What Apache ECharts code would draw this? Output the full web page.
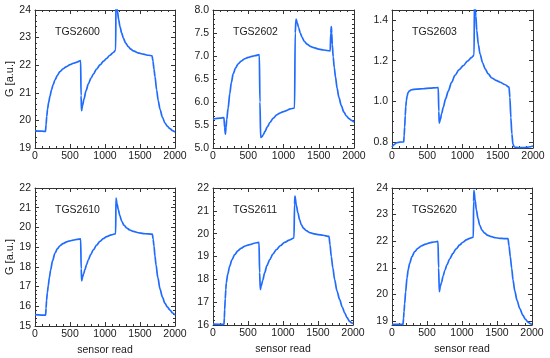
<!DOCTYPE html>
<html><head><meta charset="utf-8">
<script src="https://cdn.jsdelivr.net/npm/echarts@6/dist/echarts.min.js"></script>
<style>html,body{margin:0;padding:0;background:#fff}#c{width:550px;height:358px}</style>
</head><body><div id="c"></div><script>
// ---- data (sensor read, G [a.u.]) ----
const sensorNames = ['TGS2600','TGS2602','TGS2603','TGS2610','TGS2611','TGS2620'];
const xTickLabels = [0, 500, 1000, 1500, 2000];

const tgs2600 = [[0,19.62],[100,19.61],[150,19.6],[158,19.85],[168,20.15],[180,20.42],[195,20.65],[214,20.88],[235,21.1],[260,21.3],[286,21.47],[320,21.63],[357,21.77],[400,21.87],[452,21.95],[500,22.02],[548,22.07],[600,22.11],[652,22.17],[658,20.9],[665,20.35],[680,20.55],[700,20.78],[730,21.08],[762,21.32],[800,21.53],[833,21.67],[880,21.86],[929,22.01],[980,22.15],[1024,22.25],[1070,22.36],[1119,22.46],[1152,22.55],[1158,24.6],[1176,24.0],[1195,23.65],[1214,23.4],[1238,23.17],[1262,22.98],[1295,22.8],[1333,22.67],[1370,22.58],[1405,22.52],[1470,22.45],[1548,22.4],[1620,22.36],[1672,22.34],[1685,22.15],[1700,21.85],[1714,21.59],[1738,21.1],[1760,20.72],[1786,20.4],[1820,20.12],[1857,19.9],[1890,19.79],[1929,19.7],[1965,19.63],[2000,19.58]];
const tgs2602 = [[0,5.63],[100,5.65],[155,5.66],[165,5.45],[176,5.3],[185,5.45],[195,5.62],[214,5.86],[238,6.18],[260,6.42],[286,6.61],[320,6.74],[357,6.83],[400,6.89],[452,6.94],[500,6.97],[548,6.99],[600,7.01],[657,7.03],[666,6.0],[676,5.23],[690,5.24],[710,5.28],[738,5.36],[770,5.46],[810,5.56],[855,5.65],[905,5.72],[950,5.76],[1000,5.79],[1050,5.82],[1095,5.85],[1157,5.87],[1166,7.5],[1178,7.8],[1195,7.72],[1214,7.62],[1238,7.5],[1262,7.41],[1295,7.32],[1333,7.26],[1380,7.21],[1429,7.18],[1500,7.15],[1571,7.13],[1662,7.11],[1671,7.5],[1678,7.64],[1684,7.5],[1692,7.25],[1705,6.98],[1720,6.75],[1738,6.54],[1760,6.3],[1786,6.1],[1820,5.92],[1857,5.78],[1890,5.7],[1929,5.64],[1965,5.6],[2000,5.56]];
const tgs2603 = [[0,0.775],[30,0.787],[62,0.795],[110,0.799],[166,0.80],[172,0.83],[180,0.874],[188,0.93],[196,0.975],[204,1.004],[215,1.027],[228,1.043],[250,1.052],[276,1.057],[350,1.06],[442,1.062],[540,1.065],[632,1.067],[656,1.068],[664,0.95],[670,0.893],[685,0.91],[705,0.94],[727,0.97],[760,1.012],[798,1.05],[845,1.093],[893,1.128],[950,1.155],[1012,1.176],[1070,1.198],[1131,1.217],[1164,1.228],[1170,1.52],[1190,1.42],[1202,1.35],[1225,1.28],[1249,1.233],[1285,1.19],[1321,1.16],[1365,1.135],[1416,1.115],[1475,1.103],[1534,1.094],[1600,1.083],[1660,1.07],[1672,1.02],[1686,0.92],[1700,0.84],[1715,0.79],[1734,0.775],[1800,0.772],[1867,0.772],[1940,0.775],[2000,0.78]];
const tgs2610 = [[0,15.58],[152,15.55],[158,15.9],[165,16.3],[177,16.7],[190,17.05],[205,17.45],[224,17.85],[250,18.3],[286,18.7],[320,18.92],[357,19.07],[400,19.18],[452,19.27],[500,19.32],[548,19.36],[600,19.39],[652,19.42],[660,17.9],[667,17.29],[680,17.48],[695,17.65],[714,17.87],[737,18.12],[762,18.36],[795,18.62],[833,18.86],[880,19.1],[929,19.29],[975,19.43],[1024,19.53],[1090,19.62],[1152,19.68],[1157,21.49],[1172,21.2],[1190,20.9],[1212,20.6],[1238,20.32],[1270,20.12],[1310,19.97],[1355,19.87],[1405,19.8],[1475,19.73],[1548,19.69],[1620,19.67],[1676,19.66],[1688,19.4],[1700,19.05],[1714,18.55],[1729,18.1],[1755,17.45],[1786,16.88],[1820,16.47],[1857,16.15],[1890,15.97],[1929,15.81],[1965,15.66],[2000,15.56]];
const tgs2611 = [[0,16.04],[157,16.03],[162,16.3],[167,16.67],[175,17.15],[183,17.55],[190,17.84],[210,18.22],[238,18.57],[270,18.85],[310,19.08],[355,19.25],[405,19.37],[460,19.46],[524,19.52],[590,19.58],[657,19.62],[666,18.3],[676,17.55],[690,17.72],[710,17.95],[738,18.28],[770,18.6],[810,18.86],[855,19.1],[905,19.3],[960,19.47],[1024,19.62],[1090,19.72],[1157,19.81],[1165,21.3],[1171,21.64],[1190,21.25],[1214,20.9],[1238,20.6],[1262,20.39],[1295,20.23],[1333,20.13],[1380,20.05],[1429,20.0],[1500,19.96],[1571,19.93],[1657,19.88],[1672,19.5],[1690,19.0],[1712,18.5],[1738,17.99],[1770,17.5],[1810,17.11],[1845,16.8],[1881,16.53],[1915,16.32],[1952,16.16],[1980,16.09],[2000,16.06]];
const tgs2620 = [[0,18.87],[157,18.87],[165,19.1],[172,19.35],[181,19.65],[195,20.1],[214,20.62],[232,20.93],[252,21.17],[285,21.42],[324,21.61],[370,21.73],[419,21.82],[480,21.89],[538,21.94],[600,21.97],[657,21.99],[666,21.0],[676,20.1],[690,20.3],[708,20.45],[729,20.68],[755,20.9],[786,21.12],[825,21.34],[871,21.54],[915,21.71],[967,21.86],[1012,21.96],[1062,22.05],[1110,22.11],[1162,22.15],[1166,23.5],[1171,23.91],[1187,23.55],[1205,23.18],[1228,22.86],[1252,22.61],[1285,22.42],[1324,22.3],[1370,22.22],[1419,22.17],[1480,22.13],[1538,22.11],[1600,22.1],[1657,22.1],[1672,21.82],[1690,21.42],[1710,20.98],[1729,20.54],[1755,20.12],[1786,19.78],[1825,19.47],[1871,19.21],[1905,19.07],[1943,18.96],[1975,18.9],[2000,18.87]];

const yTicks2600 = [19,20,21,22,23,24];
const yTicks2602 = [5.0,5.5,6.0,6.5,7.0,7.5,8.0];
const yTicks2603 = [0.8,1.0,1.2,1.4];
const yTicks2610 = [15,16,17,18,19,20,21,22];
const yTicks2611 = [16,17,18,19,20,21,22];
const yTicks2620 = [19,20,21,22,23,24];

// ---- layout ----
const panels = [
  {data:tgs2600, min:19, max:24, ticks:yTicks2600, step:0.2, dec:0, grid:{left:35,top:10,width:140,height:138}, ylab:true, xlab:false},
  {data:tgs2602, min:5, max:8, ticks:yTicks2602, step:0.1, dec:1, grid:{left:213,top:10,width:141,height:138}, ylab:false, xlab:false},
  {data:tgs2603, min:0.77, max:1.45, ticks:yTicks2603, step:0.05, dec:1, grid:{left:392,top:10,width:141,height:138}, ylab:false, xlab:false},
  {data:tgs2610, min:15, max:22, ticks:yTicks2610, step:0.2, dec:0, grid:{left:35,top:188,width:140,height:138}, ylab:true, xlab:true},
  {data:tgs2611, min:16, max:22, ticks:yTicks2611, step:0.2, dec:0, grid:{left:213,top:188,width:140,height:137}, ylab:false, xlab:true},
  {data:tgs2620, min:18.85, max:24, ticks:yTicks2620, step:0.2, dec:0, grid:{left:392,top:188,width:140,height:137}, ylab:false, xlab:true}
];

const font = 'Arial, "Liberation Sans", sans-serif';
const ink = '#1a1a1a';
const lineCol = '#333';
const grid=[], xAxis=[], yAxis=[], series=[], title=[];

panels.forEach((p,i)=>{
  grid.push(Object.assign({containLabel:false}, p.grid));
  const minor=[];
  for(let k=Math.ceil(p.min/p.step-1e-9); k*p.step<=p.max+1e-9; k++){
    const v=+(k*p.step).toFixed(4);
    if(!p.ticks.some(t=>Math.abs(t-v)<1e-6)) minor.push(v);
  }
  const xBase = {gridIndex:i, type:'value', min:0, max:2000, interval:500,
    axisLine:{show:true, lineStyle:{color:lineCol,width:1}},
    axisTick:{show:true, inside:true, length:4, lineStyle:{color:lineCol}},
    minorTick:{show:true, splitNumber:5, length:2, lineStyle:{color:lineCol}},
    splitLine:{show:false}, minorSplitLine:{show:false}};
  xAxis.push(Object.assign({}, xBase, {position:'bottom',
    axisLabel:{show:true, fontSize:10.5, color:ink, fontFamily:font, margin:3,
      customValues:xTickLabels, formatter:v=>String(v)},
    name: p.xlab ? 'sensor read' : '', nameLocation:'middle', nameGap:19,
    nameTextStyle:{fontSize:10.5, color:ink, fontFamily:font}}));
  xAxis.push(Object.assign({}, xBase, {position:'top', axisLabel:{show:false}}));
  const yBase = {gridIndex:i, type:'value', min:p.min, max:p.max, splitLine:{show:false}};
  const yMajor = Object.assign({}, yBase, {
    axisLine:{show:true, lineStyle:{color:lineCol,width:1}},
    axisTick:{show:true, inside:true, length:4, customValues:p.ticks, lineStyle:{color:lineCol}}});
  const yMinor = Object.assign({}, yBase, {
    axisLine:{show:false}, axisLabel:{show:false},
    axisTick:{show:true, inside:true, length:2, customValues:minor, lineStyle:{color:lineCol}}});
  yAxis.push(Object.assign({}, yMajor, {position:'left',
    axisLabel:{show:true, fontSize:10.5, color:ink, fontFamily:font, margin:4,
      customValues:p.ticks, formatter:v=>v.toFixed(p.dec)},
    name: p.ylab ? 'G [a.u.]' : '', nameLocation:'middle', nameGap:19, nameRotate:90,
    nameTextStyle:{fontSize:11, color:ink, fontFamily:font}}));
  yAxis.push(Object.assign({}, yMinor, {position:'left'}));
  yAxis.push(Object.assign({}, yMajor, {position:'right', axisLabel:{show:false}}));
  yAxis.push(Object.assign({}, yMinor, {position:'right'}));
  series.push({type:'line', name:sensorNames[i], xAxisIndex:2*i, yAxisIndex:4*i,
    data:p.data, showSymbol:false, symbol:'none', smooth:0.3, smoothMonotone:'x', clip:true,
    lineStyle:{color:'#1f6bff', width:1.7}});
  title.push({text:sensorNames[i], left:p.grid.left+15, top:p.grid.top+12,
    textStyle:{fontSize:10.5, fontWeight:'normal', color:ink, fontFamily:font}});
});

const chart = echarts.init(document.getElementById('c'), null, {renderer:'canvas'});
chart.setOption({animation:false, backgroundColor:'#fff', title, grid, xAxis, yAxis, series});
</script></body></html>
